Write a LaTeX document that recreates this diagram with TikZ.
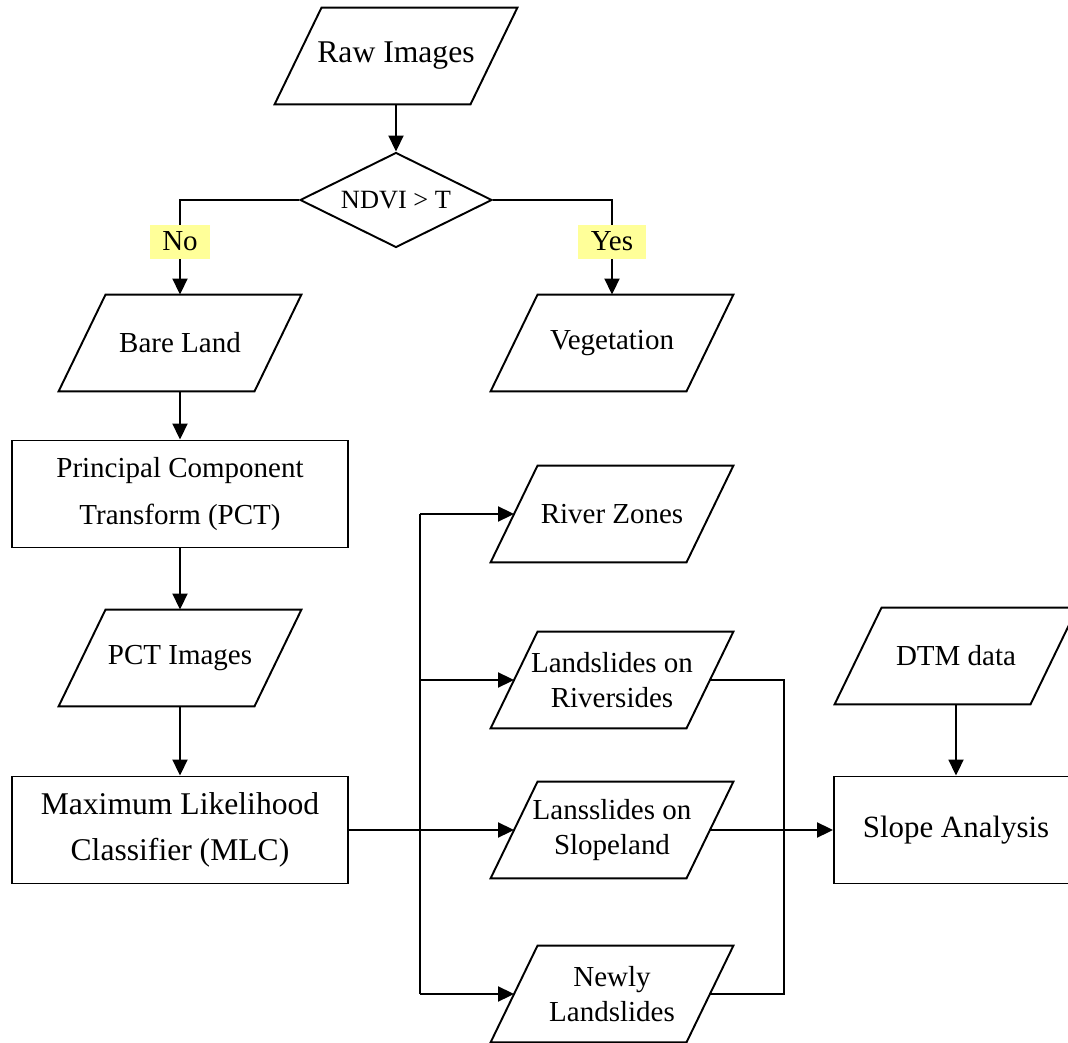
\documentclass[tikz,border=0pt]{standalone}
\usepackage{fontspec}
\setmainfont{Liberation Serif}
\usetikzlibrary{shapes.geometric,arrows.meta}
\definecolor{tagyellow}{HTML}{FFFF99}

\begin{document}
\begin{tikzpicture}[x=0.02cm, y=-0.02cm, line width=1.1pt,
	every node/.style={font=\fontsize{16.5}{19.5}\selectfont},
	data/.style={rectangle, minimum width=3.88cm, minimum height=1.9cm, inner sep=0pt, align=center},
	proc/.style={draw, rectangle, minimum height=2.14cm, align=center},
	decide/.style={draw, diamond, aspect=2, minimum width=3.84cm, minimum height=1.9cm, inner sep=0pt},
	tag/.style={fill=tagyellow, minimum height=0.68cm, inner xsep=0.25cm},
	arrow/.style={-{Triangle[length=0.32cm, width=0.3cm]}}]
	
	% \drawdata#node : slanted frame round a data node
	\def\drawdata#1{
		\draw ([xshift=0.47cm]#1.north west) -- ([xshift=0.47cm]#1.north east)
			-- ([xshift=-0.47cm]#1.south east) -- ([xshift=-0.47cm]#1.south west) -- cycle;
	}
	
	% page frame
	\useasboundingbox (0, 0) rectangle (1068, 1043);
	\clip (0, 0) rectangle (1068, 1043);
	
	% left column
	\node[data, font=\fontsize{18}{21}\selectfont] (raw) at (396, 56) {Raw Images};
	\node[decide, font=\fontsize{15}{18}\selectfont] (ndvi) at (396, 200) {NDVI > T};
	\node[data] (bare) at (180, 343) {Bare Land};
	\node[data] (veg) at (612, 343) {Vegetation};
	\node[proc, minimum width=6.72cm, font=\fontsize{16.5}{27}\selectfont] (pct) at (180, 494)
		{Principal Component\\Transform (PCT)};
	\node[data] (pctimg) at (180, 658) {PCT Images};
	\node[proc, minimum width=6.72cm, font=\fontsize{18}{26}\selectfont] (mlc) at (180, 830)
		{Maximum Likelihood\\Classifier (MLC)};
	
	% classes
	\node[data] (river) at (612, 514) {River Zones};
	\node[data] (rivside) at (612, 680) {Landslides on\\Riversides};
	\node[data] (slopeland) at (612, 830) {Lansslides on\\Slopeland};
	\node[data] (newly) at (612, 994) {Newly\\Landslides};
	
	% right column
	\node[data] (dtm) at (956, 656) {DTM data};
	\node[proc, minimum width=4.88cm, font=\fontsize{17.6}{21}\selectfont] (slope) at (956, 830)
		{Slope Analysis};
	
	\foreach \n in {raw, bare, veg, pctimg, river, rivside, slopeland, newly, dtm}
		{\drawdata{\n}}
	
	\coordinate (split) at (420, 830);
	\coordinate (merge) at (784, 830);
	
	% connectors
	\draw[arrow] (raw) -- (ndvi);
	\draw[arrow] (ndvi.west) -| node[tag, pos=0.72] (no) {No} (bare.north);
	\draw[arrow] (ndvi.east) -| node[tag, pos=0.72] (yes) {Yes} (veg.north);
	\draw[arrow] (bare) -- (pct);
	\draw[arrow] (pct) -- (pctimg);
	\draw[arrow] (pctimg) -- (mlc);
	
	\draw (split |- river.west) -- (split |- newly.west);
	\draw[arrow] (mlc.east) -- (slopeland.west);
	\draw[arrow] (split |- river.west) -- (river.west);
	\draw[arrow] (split |- rivside.west) -- (rivside.west);
	\draw[arrow] (split |- newly.west) -- (newly.west);
	
	\draw (rivside.east) -| (merge);
	\draw (newly.east) -| (merge);
	\draw[arrow] (slopeland.east) -- (slope.west);
	\draw[arrow] (dtm) -- (slope);
\end{tikzpicture}
\end{document}
